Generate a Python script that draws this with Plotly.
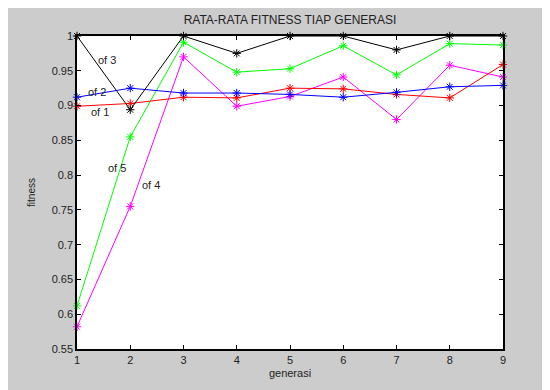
import plotly.graph_objects as go

generasi = [1, 2, 3, 4, 5, 6, 7, 8, 9]
of1 = [0.899, 0.903, 0.912, 0.911, 0.925, 0.924, 0.916, 0.911, 0.959]
of2 = [0.912, 0.925, 0.918, 0.918, 0.916, 0.912, 0.919, 0.927, 0.929]
of3 = [1.0, 0.894, 1.0, 0.975, 1.0, 1.0, 0.980, 1.0, 1.0]
of4 = [0.582, 0.755, 0.970, 0.899, 0.913, 0.941, 0.880, 0.958, 0.941]
of5 = [0.612, 0.855, 0.991, 0.948, 0.953, 0.986, 0.944, 0.989, 0.987]

series = [
    ("of 4", of4, "#ff00ff"),
    ("of 5", of5, "#00ff00"),
    ("of 1", of1, "#ff0000"),
    ("of 2", of2, "#0000ff"),
    ("of 3", of3, "#000000"),
]

label_names = ["of 3", "of 2", "of 1", "of 5", "of 4"]
label_x = [1.56, 1.38, 1.43, 1.75, 2.39]
label_y = [0.966, 0.919, 0.891, 0.81, 0.786]

yticks = [0.55, 0.6, 0.65, 0.7, 0.75, 0.8, 0.85, 0.9, 0.95, 1]

fig = go.Figure()
for name, vals, col in series:
    fig.add_trace(go.Scatter(
        x=generasi, y=vals, mode="lines+markers", name=name,
        line=dict(color=col, width=1),
        marker=dict(symbol="asterisk-open", size=7, color=col,
                    line=dict(color=col, width=1)),
        cliponaxis=False, showlegend=False))

for t, x, y in zip(label_names, label_x, label_y):
    fig.add_annotation(x=x, y=y, text=t, showarrow=False,
                       font=dict(size=11, color="#222222"))

# page body has an 8px margin; figure size chosen so the axes land where the reference has them
W, H = 542, 382
L, R, T, B = 69, 47, 28, 39

axis_common = dict(showgrid=False, zeroline=False, ticks="inside", ticklen=4,
                   tickcolor="black", showline=True, linecolor="black",
                   linewidth=1.5, mirror="ticks",
                   tickfont=dict(family="Liberation Sans, Arial", size=11, color="#222222"))

fig.update_layout(
    width=W, height=H,
    margin=dict(l=L, r=R, t=T, b=B),
    paper_bgcolor="#cccccc", plot_bgcolor="white",
    font=dict(family="Liberation Sans, Arial", color="#222222"),
    title=dict(text="RATA-RATA FITNESS TIAP GENERASI", x=0.5, xref="paper",
               xanchor="center", y=1 - 12 / H, yanchor="middle",
               font=dict(size=12, color="#222222")),
    xaxis=dict(range=[1, 9], tickvals=generasi, ticktext=[str(g) for g in generasi],
               title=dict(text="generasi", font=dict(size=11), standoff=4), **axis_common),
    yaxis=dict(range=[0.55, 1], tickvals=yticks,
               title=dict(text="fitness", font=dict(size=10), standoff=14), **axis_common),
)

fig.write_html("out.html")
